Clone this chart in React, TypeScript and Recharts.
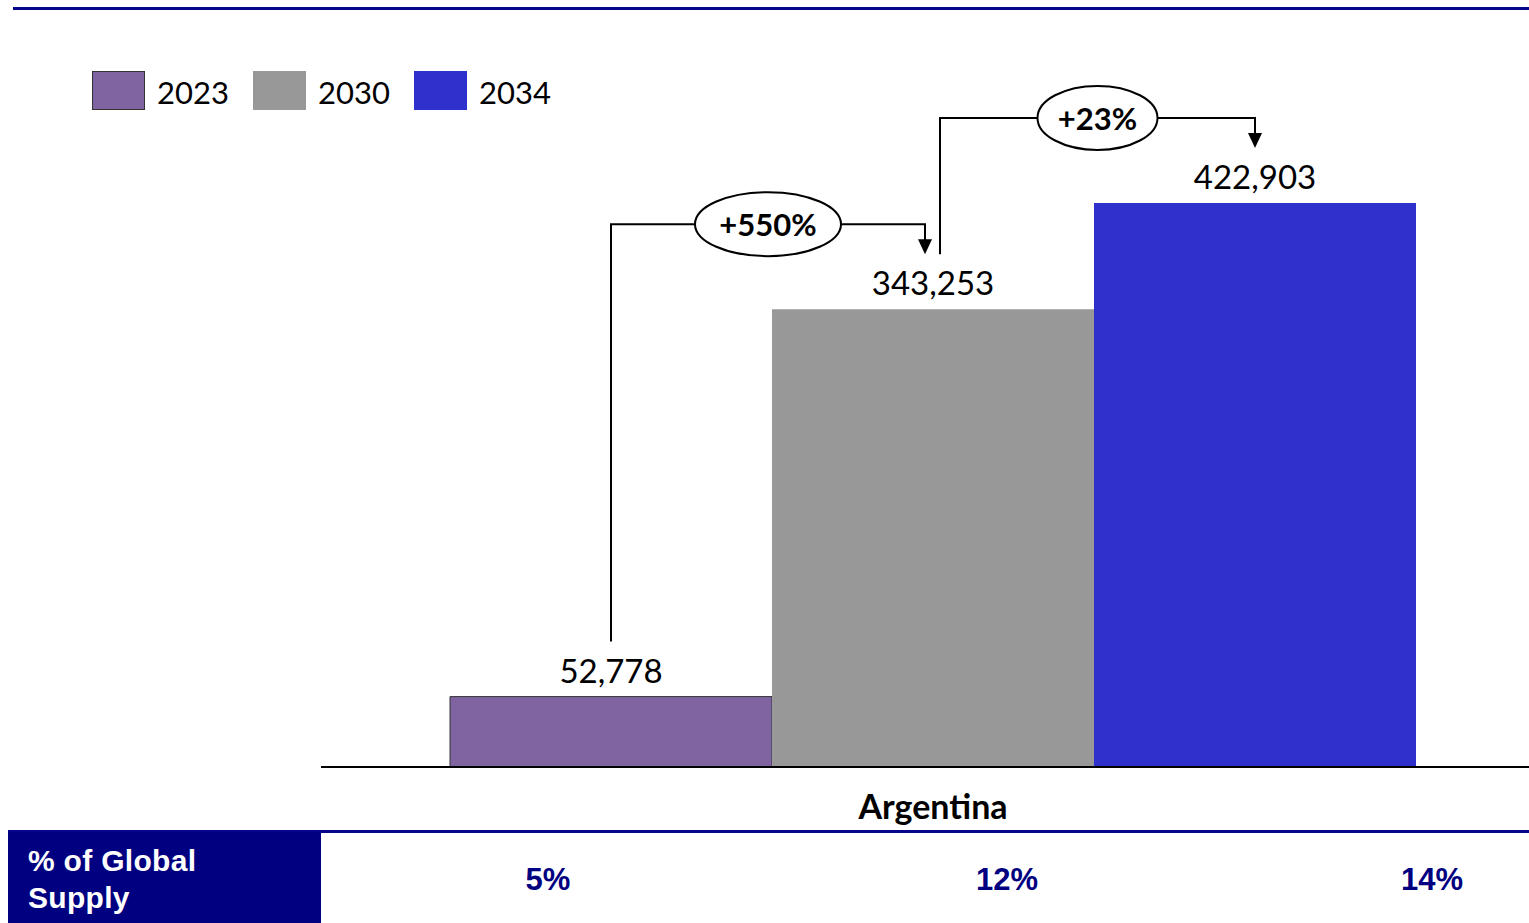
import React from 'react';
import { BarChart, XAxis, YAxis, Bar } from 'recharts';

const categories = ['Argentina'];
const seriesYears = ['2023', '2030', '2034'];
const values2023 = [52778];
const values2030 = [343253];
const values2034 = [422903];
const growthLabels = ['+550%', '+23%'];
const globalShare = ['5%', '12%', '14%'];

const seriesValues = [values2023, values2030, values2034];
const seriesKeys = seriesYears.map((y) => `y${y}`);
const seriesColors = ['#8064A2', '#989898', '#2E31CC'];
const navy = '#05058C';
const labelFont = 'Lato, "Open Sans", sans-serif';
const tableFont = '"Liberation Sans", Arial, sans-serif';

const data = categories.map((country, i) => {
    const row: any = { country };
    seriesKeys.forEach((key, s) => {
        row[key] = seriesValues[s][i];
    });
    return row;
});

const fmt = (v: number) => v.toLocaleString('en-US');

const makeLabel = (s: number) => (props: any) => {
    const vb = props.viewBox && props.viewBox.width !== undefined ? props.viewBox : props;
    const x = Number(vb.x);
    const y = Number(vb.y);
    const w = Number(vb.width);
    const h = Number(vb.height);
    const idx = props.index ?? 0;
    const v = seriesValues[s][idx];
    const cx = x + w / 2;
    const base = y + h;
    const k = h / v;

    let bracket = null;
    if (s > 0) {
        const prevTop = base - seriesValues[s - 1][idx] * k;
        const startX = cx - w + (s > 1 ? 7 : 0);
        const endX = cx + (s < seriesKeys.length - 1 ? -8 : 0);
        const hy = y - 85;
        const tipY = y - 55;
        const text = growthLabels[s - 1];
        const rx = 13 * text.length + 8;
        const mx = (startX + endX) / 2;
        bracket = (
            <g>
                <path
                    d={`M${startX},${prevTop - 55} V${hy} H${endX} V${tipY - 14}`}
                    fill="none"
                    stroke="#000"
                    strokeWidth={2}
                />
                <polygon
                    points={`${endX - 7},${tipY - 15} ${endX + 7},${tipY - 15} ${endX},${tipY}`}
                    fill="#000"
                />
                <ellipse cx={mx} cy={hy} rx={rx} ry={32} fill="#fff" stroke="#000" strokeWidth={2} />
                <text
                    x={mx}
                    y={hy}
                    textAnchor="middle"
                    dominantBaseline="central"
                    fontFamily={labelFont}
                    fontWeight={700}
                    fontSize={31}
                    fill="#000"
                >
                    {text}
                </text>
            </g>
        );
    }

    return (
        <g>
            <text
                x={cx}
                y={y - 27}
                textAnchor="middle"
                dominantBaseline="central"
                fontFamily={labelFont}
                fontSize={33}
                fill="#000"
            >
                {fmt(v)}
            </text>
            {bracket}
        </g>
    );
};

const CountryTick = (props: any) => {
    const { x, y, payload } = props;
    return (
        <text
            x={x}
            y={y}
            dy={30}
            textAnchor="middle"
            dominantBaseline="central"
            fontFamily={labelFont}
            fontWeight={700}
            fontSize={34}
            fill="#000"
        >
            {payload.value}
        </text>
    );
};

const App = () => {
    return (
        <div style={{ position: 'absolute', left: 0, top: 0, width: 1529, height: 923, overflow: 'hidden', background: '#fff' }}>
            {/* top rule */}
            <div style={{ position: 'absolute', left: 13, top: 7, width: 1516, height: 3, background: navy }} />

            {/* legend */}
            {seriesYears.map((year, i) => (
                <div
                    key={year}
                    style={{ position: 'absolute', left: 92 + i * 161, top: 71, height: 39, display: 'flex', alignItems: 'center' }}
                >
                    <div
                        style={{
                            width: 53,
                            height: 39,
                            boxSizing: 'border-box',
                            background: seriesColors[i],
                            border: i === 0 ? '1px solid #333' : 'none',
                        }}
                    />
                    <span style={{ marginLeft: 12, marginTop: 2, fontFamily: labelFont, fontSize: 31, color: '#000' }}>{year}</span>
                </div>
            ))}

            <div style={{ position: 'absolute', left: 0, top: 0 }}>
                <BarChart
                    width={1545}
                    height={831}
                    data={data}
                    margin={{ top: 20, right: 0, left: 321, bottom: 0 }}
                    barGap={0}
                    barSize={322}
                >
                    <XAxis
                        dataKey="country"
                        height={64}
                        tickLine={false}
                        axisLine={{ stroke: '#000', strokeWidth: 2 }}
                        tick={<CountryTick />}
                    />
                    <YAxis hide domain={[0, 560000]} />
                    {seriesKeys.map((key, s) => (
                        <Bar
                            key={key}
                            dataKey={key}
                            fill={seriesColors[s]}
                            stroke={s === 0 ? '#333' : 'none'}
                            strokeWidth={1}
                            isAnimationActive={false}
                            label={makeLabel(s)}
                        />
                    ))}
                </BarChart>
            </div>

            {/* % of global supply row */}
            <div style={{ position: 'absolute', left: 8, top: 830, width: 1521, height: 3, background: navy }} />
            <div
                style={{
                    position: 'absolute',
                    left: 8,
                    top: 832,
                    width: 313,
                    height: 91,
                    background: '#000080',
                    color: '#fff',
                    fontFamily: tableFont,
                    fontWeight: 700,
                    fontSize: 30,
                    lineHeight: '37px',
                    boxSizing: 'border-box',
                    padding: '10px 0 0 20px',
                    letterSpacing: 0.3,
                }}
            >
                % of Global
                <br />
                Supply
            </div>
            {globalShare.map((share, i) => (
                <div
                    key={share}
                    style={{
                        position: 'absolute',
                        left: [548, 1007, 1432][i] - 60,
                        width: 120,
                        top: 862,
                        textAlign: 'center',
                        fontFamily: tableFont,
                        fontWeight: 700,
                        fontSize: 31,
                        lineHeight: '36px',
                        color: '#000080',
                    }}
                >
                    {share}
                </div>
            ))}
        </div>
    );
};

export default App;
